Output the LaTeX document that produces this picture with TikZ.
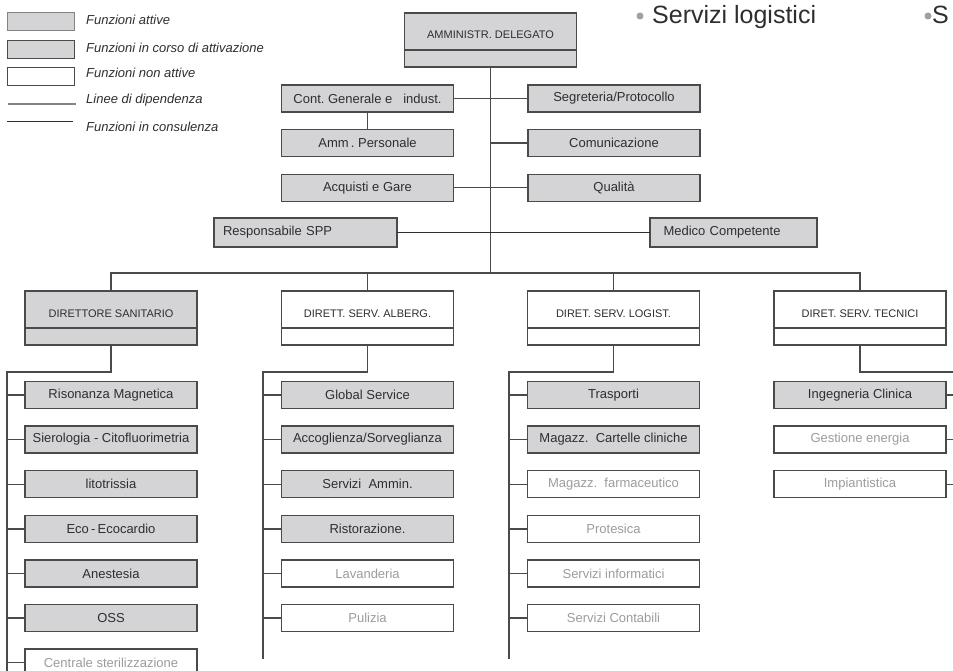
\documentclass[tikz,border=0pt]{standalone}
\usepackage{fontspec}
\setmainfont{Liberation Sans}
\usetikzlibrary{positioning}
\definecolor{Fill}{HTML}{D4D4D6}
\definecolor{Edge}{HTML}{4A4A4A}
\definecolor{Ink}{HTML}{2E2E2E}
\definecolor{Faint}{HTML}{9C9C9C}
\definecolor{Dot}{HTML}{A0A0A0}

\begin{document}
\begin{tikzpicture}[
  x=1pt,y=-1pt,node distance=17.6pt,
  box/.style={draw=Edge,line width=1.3pt,minimum width=172pt,minimum height=27pt,inner sep=0pt,outer sep=0pt,text=Ink,font=\fontsize{13}{15}\selectfont},
  act/.style={box,fill=Fill},
  idle/.style={box,fill=white,text=Faint},
  head/.style={box,minimum height=37pt,text height=15pt,text depth=0pt,font=\fontsize{11}{13}\selectfont},
  foot/.style={box,minimum height=17pt},
  key/.style={draw=Edge,line width=1pt,minimum width=67pt,minimum height=18pt,inner sep=0pt},
  keytext/.style={anchor=west,inner sep=0pt,text=Ink,font=\fontsize{13}{15}\selectfont\itshape},
  dep/.style={draw=Edge,line width=1.4pt},
  cons/.style={draw=Ink,line width=0.8pt},
  dot/.style={circle,fill=Dot,inner sep=0pt,minimum size=7pt},
  big/.style={anchor=base west,inner sep=0pt,text=Ink,font=\fontsize{25}{30}\selectfont}
]
  \useasboundingbox (0,0) rectangle (953,671);
  \clip (0,0) rectangle (953,671);

  % legend
  \node[key,fill=Fill,draw=Faint!70!Edge] (k1) at (40.5,22) {};
  \node[key,fill=Fill] (k2) at (40.5,49.5) {};
  \node[key,fill=white] (k3) at (40.5,76.5) {};
  \coordinate (l1a) at (8,104);
  \coordinate (l1b) at (76,104);
  \coordinate (l2a) at (7,121);
  \coordinate (l2b) at (73,121);
  \draw[draw=Faint!70!Edge,line width=1.8pt] (l1a) -- (l1b);
  \draw[cons] (l2a) -- (l2b);
  \node[keytext] (t1) at (86,19.5) {Funzioni attive};
  \node[keytext] (t2) at (86,47.5) {Funzioni in corso di attivazione};
  \node[keytext] (t3) at (86,73) {Funzioni non attive};
  \node[keytext] (t4) at (86,100.5) {Linee di dipendenza};
  \node[keytext] (t5) at (86,127) {Funzioni in consulenza};

  % slide bullets
  \node[dot] (b1) at (640,16) {};
  \node[big] (s1) at (652,24) {Servizi logistici};
  \node[dot] (b2) at (928,16) {};
  \node[big] (s2) at (932,24) {S};

  % top management
  \node[head,fill=Fill] (ad) at (490.5,31.5) {AMMINISTR. DELEGATO};
  \node[foot,fill=Fill,below=0pt of ad] (adf) {};
  \node[act] (cont) at (367.5,98.5) {Cont.\ Generale e\ \ \ indust.};
  \node[act] (seg) at (614,98.5) {Segreteria/Protocollo};
  \node[act,below=of cont] (amm) {Amm\,.\ Personale};
  \node[act,below=of seg] (com) {Comunicazione};
  \node[act,below=of amm] (acq) {Acquisti e Gare};
  \node[act,below=of com] (qual) {Qualità};
  \node[act,minimum width=183pt,minimum height=29pt,text width=165pt,align=left] (spp) at (305.5,232.5) {Responsabile SPP};
  \node[act,minimum width=167pt,minimum height=29pt,text width=140pt,align=left] (med) at (733.5,232.5) {Medico Competente};
  \coordinate (bus) at (0,273);

  % directors
  \node[head,fill=Fill] (ds) at (111,309.5) {DIRETTORE SANITARIO};
  \node[foot,fill=Fill,below=0pt of ds] (dsf) {};
  \node[head,fill=white] (da) at (367.5,309.5) {DIRETT. SERV. ALBERG.};
  \node[foot,fill=white,below=0pt of da] (daf) {};
  \node[head,fill=white] (dl) at (613.5,309.5) {DIRET. SERV. LOGIST.};
  \node[foot,fill=white,below=0pt of dl] (dlf) {};
  \node[head,fill=white] (dt) at (860,309.5) {DIRET. SERV. TECNICI};
  \node[foot,fill=white,below=0pt of dt] (dtf) {};

  % sanitario
  \node[act] (rm) at (111,395) {Risonanza Magnetica};
  \node[act,below=of rm] (sc) {Sierologia - Citofluorimetria};
  \node[act,below=of sc] (lt) {litotrissia};
  \node[act,below=of lt] (ec) {Eco\,-\,Ecocardio};
  \node[act,below=of ec] (an) {Anestesia};
  \node[act,below=of an] (oss) {OSS};
  \node[idle,below=of oss] (cs) {Centrale sterilizzazione};

  % alberghieri
  \node[act] (gs) at (367.5,395) {Global Service};
  \node[act,below=of gs] (ac) {Accoglienza/Sorveglianza};
  \node[act,below=of ac] (sa) {Servizi\ \ Ammin.};
  \node[act,below=of sa] (ri) {Ristorazione.};
  \node[idle,below=of ri] (la) {Lavanderia};
  \node[idle,below=of la] (pu) {Pulizia};

  % logistici
  \node[act] (tr) at (613.5,395) {Trasporti};
  \node[act,below=of tr] (mc) {Magazz.\ \ Cartelle cliniche};
  \node[idle,below=of mc] (mf) {Magazz.\ \ farmaceutico};
  \node[idle,below=of mf] (pr) {Protesica};
  \node[idle,below=of pr] (si) {Servizi informatici};
  \node[idle,below=of si] (sco) {Servizi Contabili};

  % tecnici
  \node[act] (ic) at (860,395) {Ingegneria Clinica};
  \node[idle,below=of ic] (ge) {Gestione energia};
  \node[idle,below=of ge] (im) {Impiantistica};

  % lines
  \draw[dep] (adf.south) -- (adf.south |- bus);
  \draw[dep] (cont) -- (seg);
  \draw[dep] (cont) -- (amm);
  \draw[dep] (com.west) -- (com.west -| adf.south);
  \draw[dep] (acq) -- (qual);
  \draw[cons] (spp) -- (med);
  \draw[dep] (ds.north) |- (bus -| dt.north) -- (dt.north);
  \draw[dep] (da.north) -- (da.north |- bus);
  \draw[dep] (dl.north) -- (dl.north |- bus);

  \coordinate (sx1) at (7,372);
  \coordinate (ex1) at (7,680);
  \coordinate (sx2) at (263,372);
  \coordinate (ex2) at (263,659);
  \coordinate (sx3) at (509,372);
  \coordinate (ex3) at (509,659);
  \coordinate (sx4) at (965,372);
  \coordinate (ex4) at (965,520);
  \draw[dep] (dsf.south) |- (sx1) -- (ex1);
  \draw[dep] (daf.south) |- (sx2) -- (ex2);
  \draw[dep] (dlf.south) |- (sx3) -- (ex3);
  \draw[dep] (dtf.south) |- (sx4) -- (ex4);
  \foreach \c in {rm,sc,lt,ec,an,oss,cs}
    \draw[dep] (\c.west) -- (\c.west -| sx1);
  \foreach \c in {gs,ac,sa,ri,la,pu}
    \draw[dep] (\c.west) -- (\c.west -| sx2);
  \foreach \c in {tr,mc,mf,pr,si,sco}
    \draw[dep] (\c.west) -- (\c.west -| sx3);
  \foreach \c in {ic,ge,im}
    \draw[dep] (\c.east) -- (\c.east -| sx4);
\end{tikzpicture}
\end{document}
